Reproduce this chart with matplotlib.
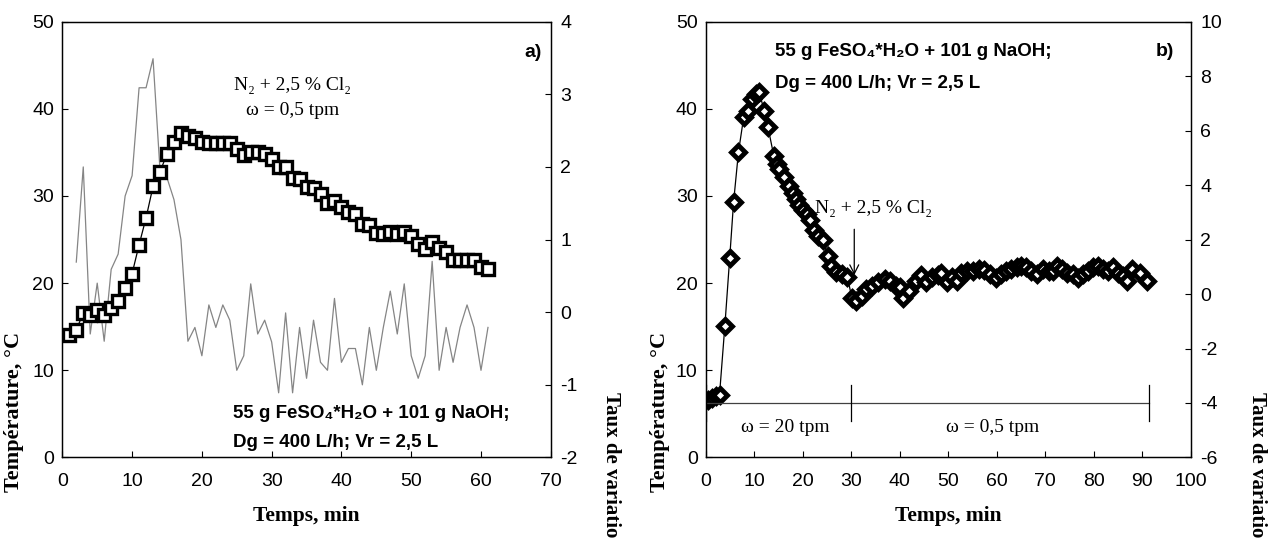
import matplotlib.pyplot as plt
import matplotlib

plt.rcParams['font.family'] = ['Liberation Sans', 'DejaVu Sans']
plt.rcParams['font.size'] = 14
plt.rcParams['axes.unicode_minus'] = False
SERIF = ['Liberation Serif', 'DejaVu Serif']

# ! -------------
# ! Data, panel a)  (temperature and rate of variation)
t_a = list(range(1, 62))
temp_a = [14.0, 14.6, 16.6, 16.4, 16.9, 16.4, 17.1, 18.0, 19.4, 21.1,
          24.4, 27.5, 31.1, 32.8, 34.8, 36.2, 37.2, 36.9, 36.7, 36.2,
          36.1, 36.1, 36.1, 36.1, 35.4, 34.7, 35.1, 35.0, 34.8, 34.3,
          33.3, 33.3, 32.1, 32.0, 31.0, 30.9, 30.2, 29.2, 29.4, 28.7,
          28.2, 27.9, 26.8, 26.7, 25.8, 25.6, 25.9, 25.6, 25.9, 25.4,
          24.5, 23.9, 24.7, 24.0, 23.6, 22.7, 22.6, 22.7, 22.6, 21.8,
          21.6]
t_rate_a = list(range(2, 62))
rate_a = [0.69, 2.0, -0.30, 0.40, -0.40, 0.59, 0.80, 1.60, 1.88, 3.09,
          3.09, 3.49, 1.95, 1.85, 1.55, 1.0, -0.40, -0.21, -0.60, 0.10,
          -0.21, 0.10, -0.11, -0.80, -0.60, 0.39, -0.30, -0.11, -0.41, -1.11,
          -0.01, -1.11, -0.21, -0.91, -0.11, -0.69, -0.80, 0.19, -0.69, -0.50,
          -0.50, -1.00, -0.21, -0.80, -0.21, 0.29, -0.30, 0.39, -0.60, -0.91,
          -0.60, 0.70, -0.80, -0.21, -0.69, -0.21, 0.10, -0.21, -0.80, -0.21]

# ! -------------
# ! Data, panel b)
t_b = [0.5, 1.2, 2.0, 2.8, 3.9, 4.9, 5.7, 6.7, 7.8, 8.7,
       9.6, 10.3, 11.0, 12.0, 12.8, 14.0, 14.6, 15.1, 16.0, 17.2,
       18.0, 18.6, 19.3, 20.0, 20.8, 21.4, 22.2, 23.2, 24.1, 25.2,
       25.8, 26.9, 28.0, 29.2, 30.1, 31.0, 32.2, 33.0, 34.3, 35.5,
       36.9, 38.0, 39.3, 40.1, 40.7, 41.9, 43.3, 44.3, 45.5, 46.6,
       47.8, 48.6, 49.7, 50.7, 51.9, 52.7, 53.8, 55.1, 56.3, 57.4,
       58.6, 59.9, 60.9, 61.9, 63.0, 64.1, 65.0, 66.1, 67.1, 68.4,
       69.5, 70.7, 71.7, 72.5, 73.5, 74.6, 75.7, 76.7, 77.7, 78.8,
       79.9, 80.9, 81.9, 82.9, 84.0, 85.0, 86.1, 86.9, 87.9, 89.6,
       91.0]
temp_b = [6.6, 6.8, 7.0, 7.2, 15.1, 22.9, 29.3, 35.0, 39.1, 39.8,
          41.1, 41.7, 41.9, 39.8, 37.9, 34.6, 33.7, 33.1, 32.2, 31.1,
          30.3, 29.6, 29.0, 28.4, 27.9, 27.3, 26.1, 25.4, 24.9, 23.1,
          22.0, 21.3, 21.0, 20.7, 18.3, 17.9, 18.5, 19.3, 19.7, 20.1,
          20.5, 20.3, 19.7, 19.5, 18.3, 19.1, 20.3, 20.9, 20.1, 20.7,
          20.9, 21.2, 20.1, 20.7, 20.3, 21.2, 21.4, 21.4, 21.6, 21.5,
          21.0, 20.6, 21.0, 21.4, 21.6, 21.9, 22.0, 21.8, 21.4, 21.0,
          21.6, 21.4, 21.4, 22.0, 21.6, 21.2, 21.0, 20.6, 21.0, 21.4,
          21.8, 22.0, 21.6, 21.4, 21.8, 21.2, 20.8, 20.3, 21.6, 21.2,
          20.3]

# stirring speed periods and their bounds
period_bounds = [0, 30, 91.5]
period_level = 6.25
period_labels = ['ω = 20 tpm', 'ω = 0,5 tpm']
period_label_x = [16.4, 59.2]

chem_line1 = '55 g FeSO₄*H₂O + 101 g NaOH;'
chem_line2 = 'Dg = 400 L/h; Vr = 2,5 L'
gas_label = 'N₂ + 2,5 % Cl₂'


def style_axes(ax, ax2):
    for a in (ax, ax2):
        a.tick_params(direction='in', length=4, width=0.8, labelsize=14)
        for s in a.spines.values():
            s.set_linewidth(0.9)
    ax.tick_params(axis='x', pad=11)
    ax.tick_params(axis='y', pad=6)
    ax2.tick_params(axis='y', pad=7)
    ax.set_zorder(ax2.get_zorder() + 1)
    ax.patch.set_visible(False)
    ax.set_xlabel('Temps, min', family=SERIF, fontweight='bold', fontsize=15.5, labelpad=12)


fig = plt.figure(figsize=(12.72, 5.42), dpi=100)

# ! -------------
# ! Panel a)
ax = fig.add_axes([0.049, 0.156, 0.384, 0.804])
ax2 = ax.twinx()
ax2.plot(t_rate_a, rate_a, color='#858585', lw=0.9)
ax.plot(t_a, temp_a, 'k-', lw=0.9, marker='s', ms=8, mfc='white', mec='k', mew=2.4)
ax.set_xlim(0, 70)
ax.set_ylim(0, 50)
ax2.set_ylim(-2, 4)
ax.set_xticks(range(0, 71, 10))
ax.set_yticks(range(0, 51, 10))
ax2.set_yticks(range(-2, 5))
style_axes(ax, ax2)

ax.text(67.4, 46.5, 'a)', fontweight='bold', fontsize=14, ha='center', va='center')
ax.text(33, 42.7, gas_label, family=SERIF, fontsize=14, ha='center', va='center')
ax.text(33, 39.8, 'ω = 0,5 tpm', family=SERIF, fontsize=14, ha='center', va='center')
ax.text(24.5, 5.0, chem_line1, fontweight='bold', fontsize=13.5, ha='left', va='center')
ax.text(24.5, 1.67, chem_line2, fontweight='bold', fontsize=13.5, ha='left', va='center')

# ! -------------
# ! Panel b)
bx = fig.add_axes([0.555, 0.156, 0.381, 0.804])
bx2 = bx.twinx()
bx.plot(t_b, temp_b, 'k-', lw=0.9, marker='D', ms=7.5, mfc='white', mec='k', mew=3.5)
bx.plot([period_bounds[0], period_bounds[-1]], [period_level, period_level], color='#404040', lw=0.9)
for xb in period_bounds:
    bx.plot([xb, xb], [4.2, 8.35], color='k', lw=0.9)
for lab, xl in zip(period_labels, period_label_x):
    bx.text(xl, 3.45, lab, family=SERIF, fontsize=14, ha='center', va='center')
bx.annotate('', xy=(30.6, 20.6), xytext=(30.6, 26.5),
            arrowprops=dict(arrowstyle='->', color='k', lw=0.9, mutation_scale=16))
bx.text(22.6, 28.6, gas_label, family=SERIF, fontsize=14, ha='left', va='center')
bx.text(14.3, 46.6, chem_line1, fontweight='bold', fontsize=13.5, ha='left', va='center')
bx.text(14.3, 42.9, chem_line2, fontweight='bold', fontsize=13.5, ha='left', va='center')
bx.text(94.6, 46.6, 'b)', fontweight='bold', fontsize=14, ha='center', va='center')
bx.set_xlim(0, 100)
bx.set_ylim(0, 50)
bx2.set_ylim(-6, 10)
bx.set_xticks(range(0, 101, 10))
bx.set_yticks(range(0, 51, 10))
bx2.set_yticks(range(-6, 11, 2))
style_axes(bx, bx2)

# axis titles placed like the original; the right one is truncated there
for xl in (14 / 1272, 660 / 1272):
    fig.text(xl, 1 - 492 / 542, 'Température, °C', family=SERIF, fontweight='bold',
             fontsize=16, rotation=90, ha='center', va='bottom')
for xr in (611 / 1272, 1257 / 1272):
    fig.text(xr, 1 - 392 / 542, 'Taux de variatio', family=SERIF, fontweight='bold',
             fontsize=15, rotation=-90, ha='center', va='top')

fig.savefig('out.png', dpi=100)
